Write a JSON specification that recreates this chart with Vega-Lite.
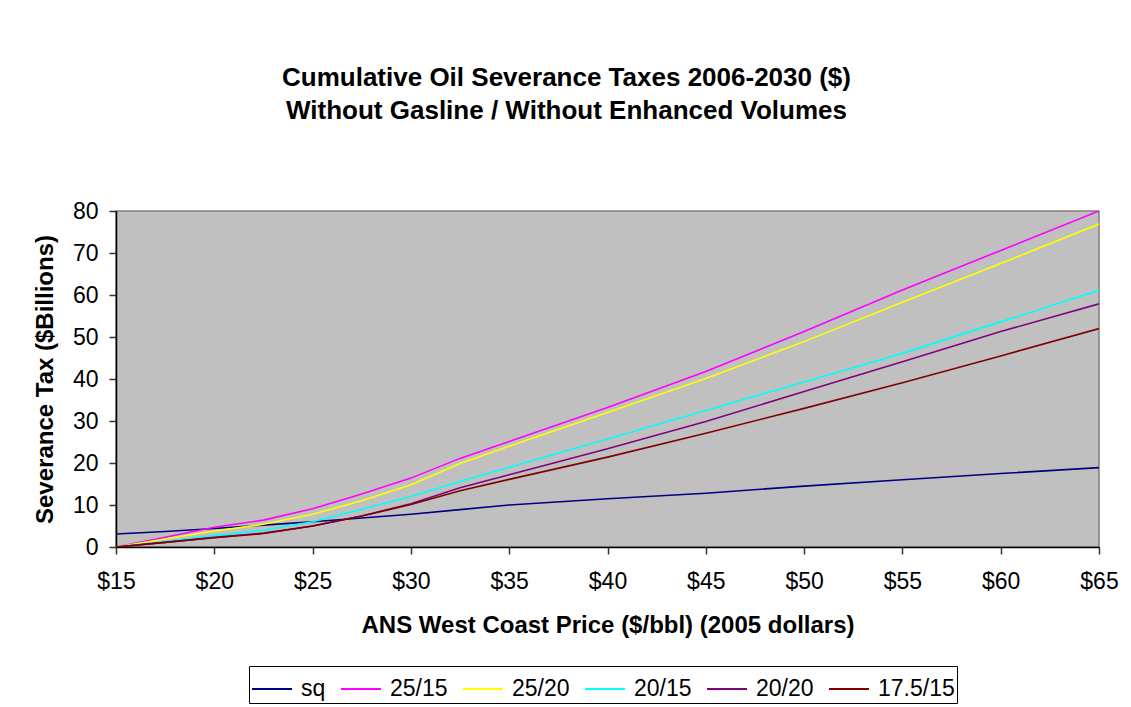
{
  "$schema": "https://vega.github.io/schema/vega-lite/v6.json",
  "width": 983,
  "height": 336,
  "autosize": {"type": "none"},
  "padding": {"left": 116, "top": 211, "right": 32, "bottom": 160},
  "background": "white",
  "title": {
    "text": ["Cumulative Oil Severance Taxes 2006-2030 ($)", "Without Gasline / Without Enhanced Volumes"],
    "font": "Liberation Sans",
    "fontSize": 26,
    "fontWeight": "bold",
    "color": "black",
    "anchor": "middle",
    "frame": "group",
    "dx": -41,
    "lineHeight": 33,
    "offset": 76
  },
  "config": {
    "view": {"fill": "#C0C0C0", "stroke": "#808080", "strokeWidth": 1.5},
    "font": "Liberation Sans",
    "axis": {
      "grid": false,
      "domainColor": "black",
      "domainWidth": 1.5,
      "tickColor": "#333333",
      "tickSize": 7,
      "tickWidth": 1.5,
      "labelFont": "Liberation Sans",
      "labelFontSize": 23,
      "labelColor": "black",
      "labelFlush": false,
      "labelOverlap": false,
      "titleFont": "Liberation Sans",
      "titleFontSize": 24,
      "titleFontWeight": "bold",
      "titleColor": "black"
    },
    "legend": {
      "labelFont": "Liberation Sans",
      "labelFontSize": 23,
      "labelColor": "black"
    }
  },
  "data": {
    "values": [
      {"price": 15, "scenario": "sq", "tax": 3.1},
      {"price": 17.5, "scenario": "sq", "tax": 3.7},
      {"price": 20, "scenario": "sq", "tax": 4.4},
      {"price": 22.5, "scenario": "sq", "tax": 5.2},
      {"price": 25, "scenario": "sq", "tax": 6.0},
      {"price": 27.5, "scenario": "sq", "tax": 6.9},
      {"price": 30, "scenario": "sq", "tax": 7.8},
      {"price": 32.5, "scenario": "sq", "tax": 8.9},
      {"price": 35, "scenario": "sq", "tax": 10.0},
      {"price": 40, "scenario": "sq", "tax": 11.5},
      {"price": 45, "scenario": "sq", "tax": 12.8},
      {"price": 50, "scenario": "sq", "tax": 14.5},
      {"price": 55, "scenario": "sq", "tax": 16.0},
      {"price": 60, "scenario": "sq", "tax": 17.5},
      {"price": 65, "scenario": "sq", "tax": 18.9},

      {"price": 15, "scenario": "25/15", "tax": 0},
      {"price": 17.5, "scenario": "25/15", "tax": 2.3},
      {"price": 20, "scenario": "25/15", "tax": 4.7},
      {"price": 22.5, "scenario": "25/15", "tax": 6.4},
      {"price": 25, "scenario": "25/15", "tax": 9.1},
      {"price": 27.5, "scenario": "25/15", "tax": 12.6},
      {"price": 30, "scenario": "25/15", "tax": 16.4},
      {"price": 32.5, "scenario": "25/15", "tax": 21.1},
      {"price": 35, "scenario": "25/15", "tax": 25.1},
      {"price": 40, "scenario": "25/15", "tax": 33.2},
      {"price": 45, "scenario": "25/15", "tax": 41.8},
      {"price": 50, "scenario": "25/15", "tax": 51.3},
      {"price": 55, "scenario": "25/15", "tax": 61.2},
      {"price": 60, "scenario": "25/15", "tax": 70.6},
      {"price": 65, "scenario": "25/15", "tax": 80},

      {"price": 15, "scenario": "25/20", "tax": 0},
      {"price": 17.5, "scenario": "25/20", "tax": 1.9},
      {"price": 20, "scenario": "25/20", "tax": 3.8},
      {"price": 22.5, "scenario": "25/20", "tax": 5.4},
      {"price": 25, "scenario": "25/20", "tax": 7.8},
      {"price": 27.5, "scenario": "25/20", "tax": 11.0},
      {"price": 30, "scenario": "25/20", "tax": 14.8},
      {"price": 32.5, "scenario": "25/20", "tax": 19.9},
      {"price": 35, "scenario": "25/20", "tax": 24.0},
      {"price": 40, "scenario": "25/20", "tax": 32.0},
      {"price": 45, "scenario": "25/20", "tax": 40.1},
      {"price": 50, "scenario": "25/20", "tax": 48.9},
      {"price": 55, "scenario": "25/20", "tax": 58.3},
      {"price": 60, "scenario": "25/20", "tax": 67.5},
      {"price": 65, "scenario": "25/20", "tax": 76.9},

      {"price": 15, "scenario": "20/15", "tax": 0},
      {"price": 17.5, "scenario": "20/15", "tax": 1.3},
      {"price": 20, "scenario": "20/15", "tax": 2.7},
      {"price": 22.5, "scenario": "20/15", "tax": 4.0},
      {"price": 25, "scenario": "20/15", "tax": 6.0},
      {"price": 27.5, "scenario": "20/15", "tax": 9.0},
      {"price": 30, "scenario": "20/15", "tax": 12.0},
      {"price": 32.5, "scenario": "20/15", "tax": 15.6},
      {"price": 35, "scenario": "20/15", "tax": 19.0},
      {"price": 40, "scenario": "20/15", "tax": 25.7},
      {"price": 45, "scenario": "20/15", "tax": 32.5},
      {"price": 50, "scenario": "20/15", "tax": 39.3},
      {"price": 55, "scenario": "20/15", "tax": 46.1},
      {"price": 60, "scenario": "20/15", "tax": 53.6},
      {"price": 65, "scenario": "20/15", "tax": 61.1},

      {"price": 15, "scenario": "20/20", "tax": 0},
      {"price": 17.5, "scenario": "20/20", "tax": 1.1},
      {"price": 20, "scenario": "20/20", "tax": 2.3},
      {"price": 22.5, "scenario": "20/20", "tax": 3.3},
      {"price": 25, "scenario": "20/20", "tax": 5.0},
      {"price": 27.5, "scenario": "20/20", "tax": 7.4},
      {"price": 30, "scenario": "20/20", "tax": 10.3},
      {"price": 32.5, "scenario": "20/20", "tax": 14.1},
      {"price": 35, "scenario": "20/20", "tax": 17.2},
      {"price": 40, "scenario": "20/20", "tax": 23.4},
      {"price": 45, "scenario": "20/20", "tax": 29.9},
      {"price": 50, "scenario": "20/20", "tax": 37.0},
      {"price": 55, "scenario": "20/20", "tax": 44.1},
      {"price": 60, "scenario": "20/20", "tax": 51.3},
      {"price": 65, "scenario": "20/20", "tax": 57.9},

      {"price": 15, "scenario": "17.5/15", "tax": 0},
      {"price": 17.5, "scenario": "17.5/15", "tax": 1.1},
      {"price": 20, "scenario": "17.5/15", "tax": 2.2},
      {"price": 22.5, "scenario": "17.5/15", "tax": 3.2},
      {"price": 25, "scenario": "17.5/15", "tax": 5.0},
      {"price": 27.5, "scenario": "17.5/15", "tax": 7.4},
      {"price": 30, "scenario": "17.5/15", "tax": 10.1},
      {"price": 32.5, "scenario": "17.5/15", "tax": 13.4},
      {"price": 35, "scenario": "17.5/15", "tax": 16.1},
      {"price": 40, "scenario": "17.5/15", "tax": 21.4},
      {"price": 45, "scenario": "17.5/15", "tax": 27.1},
      {"price": 50, "scenario": "17.5/15", "tax": 33.0},
      {"price": 55, "scenario": "17.5/15", "tax": 39.1},
      {"price": 60, "scenario": "17.5/15", "tax": 45.5},
      {"price": 65, "scenario": "17.5/15", "tax": 52.0}
    ]
  },
  "mark": {"type": "line", "strokeWidth": 1.6, "clip": true},
  "encoding": {
    "x": {
      "field": "price",
      "type": "quantitative",
      "scale": {"domain": [15, 65], "nice": false, "zero": false},
      "axis": {
        "values": [15, 20, 25, 30, 35, 40, 45, 50, 55, 60, 65],
        "labelExpr": "'$' + datum.value",
        "labelPadding": 16,
        "title": "ANS West Coast Price ($/bbl) (2005 dollars)",
        "titlePadding": 20
      }
    },
    "y": {
      "field": "tax",
      "type": "quantitative",
      "scale": {"domain": [0, 80], "nice": false},
      "axis": {
        "values": [0, 10, 20, 30, 40, 50, 60, 70, 80],
        "labelPadding": 11,
        "title": "Severance Tax ($Billions)",
        "titlePadding": 15
      }
    },
    "color": {
      "field": "scenario",
      "type": "nominal",
      "sort": ["sq", "25/15", "25/20", "20/15", "20/20", "17.5/15"],
      "scale": {
        "domain": ["sq", "25/15", "25/20", "20/15", "20/20", "17.5/15"],
        "range": ["#000080", "#FF00FF", "#FFFF00", "#00FFFF", "#800080", "#800000"]
      },
      "legend": {
        "title": null,
        "orient": "none",
        "legendX": 133,
        "legendY": 455,
        "direction": "horizontal",
        "symbolType": "stroke",
        "symbolSize": 1600,
        "symbolStrokeWidth": 2,
        "labelOffset": 8,
        "columnPadding": 11,
        "strokeColor": "black",
        "padding": 2
      }
    }
  }
}
